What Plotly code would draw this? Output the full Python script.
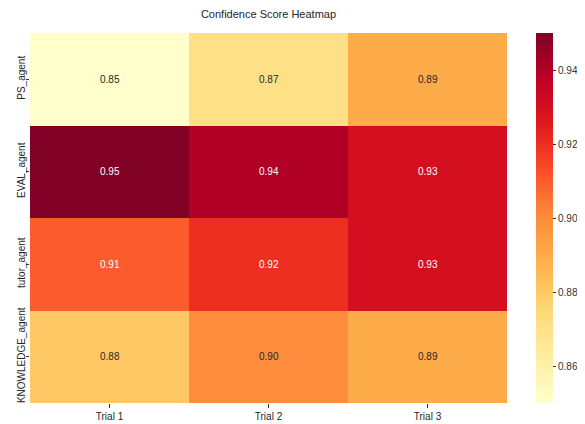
import plotly.graph_objects as go

agents = ["PS_agent", "EVAL_agent", "tutor_agent", "KNOWLEDGE_agent"]
trials = ["Trial 1", "Trial 2", "Trial 3"]
scores = [
    [0.85, 0.87, 0.89],
    [0.95, 0.94, 0.93],
    [0.91, 0.92, 0.93],
    [0.88, 0.90, 0.89],
]
cbar_ticks = [0.86, 0.88, 0.90, 0.92, 0.94]

ylorrd = ["#ffffcc", "#ffeda0", "#fed976", "#feb24c", "#fd8d3c",
          "#fc4e2a", "#e31a1c", "#bd0026", "#800026"]
cscale = [[i / (len(ylorrd) - 1), c] for i, c in enumerate(ylorrd)]
zmin, zmax = 0.85, 0.95

FONT = "Liberation Sans"
W, H = 577, 416          # page body has an 8px margin
L, R, T, B = 22, 78, 25, 21
plot_w = W - L - R

fig = go.Figure(go.Heatmap(
    z=scores, x=trials, y=agents, colorscale=cscale, zmin=zmin, zmax=zmax,
    xgap=0, ygap=0,
    colorbar=dict(
        x=(528 - L) / plot_w, xanchor="left", xpad=0, ypad=0,
        y=0.5, yanchor="middle", len=1, lenmode="fraction",
        thickness=17, outlinewidth=0, ticks="outside", ticklen=3.5, tickwidth=0.8,
        tickcolor="#333333", tickvals=cbar_ticks,
        ticktext=[f"{v:.2f}" for v in cbar_ticks],
        tickfont=dict(family=FONT, size=10, color="#333333"),
    ),
    hoverinfo="skip",
))

for i, a in enumerate(agents):
    for j, t in enumerate(trials):
        v = scores[i][j]
        frac = (v - zmin) / (zmax - zmin)
        col = "#ffffff" if frac > 0.55 else "#262626"
        fig.add_annotation(x=t, y=a, text=f"{v:.2f}", showarrow=False,
                           font=dict(family=FONT, size=10, color=col))

fig.update_layout(
    width=W, height=H,
    margin=dict(l=L, r=R, t=T, b=B, autoexpand=False),
    paper_bgcolor="white", plot_bgcolor="white",
    title=dict(text="Confidence Score Heatmap", x=(L + plot_w / 2) / W, xanchor="center",
               y=1 - 6 / H, yanchor="middle",
               font=dict(family=FONT, size=11, color="#262626")),
    xaxis=dict(ticks="outside", ticklen=3.5, tickwidth=0.8, tickcolor="#333333",
               automargin=False,
               tickfont=dict(family=FONT, size=10, color="#262626"),
               showgrid=False, zeroline=False, showline=False),
    yaxis=dict(autorange="reversed", ticks="outside", ticklen=3.5, tickwidth=0.8,
               tickcolor="#333333", tickangle=-90, automargin=False,
               ticklabelstandoff=-3,
               tickfont=dict(family=FONT, size=10, color="#262626"),
               showgrid=False, zeroline=False, showline=False),
)

fig.write_html("out.html")
